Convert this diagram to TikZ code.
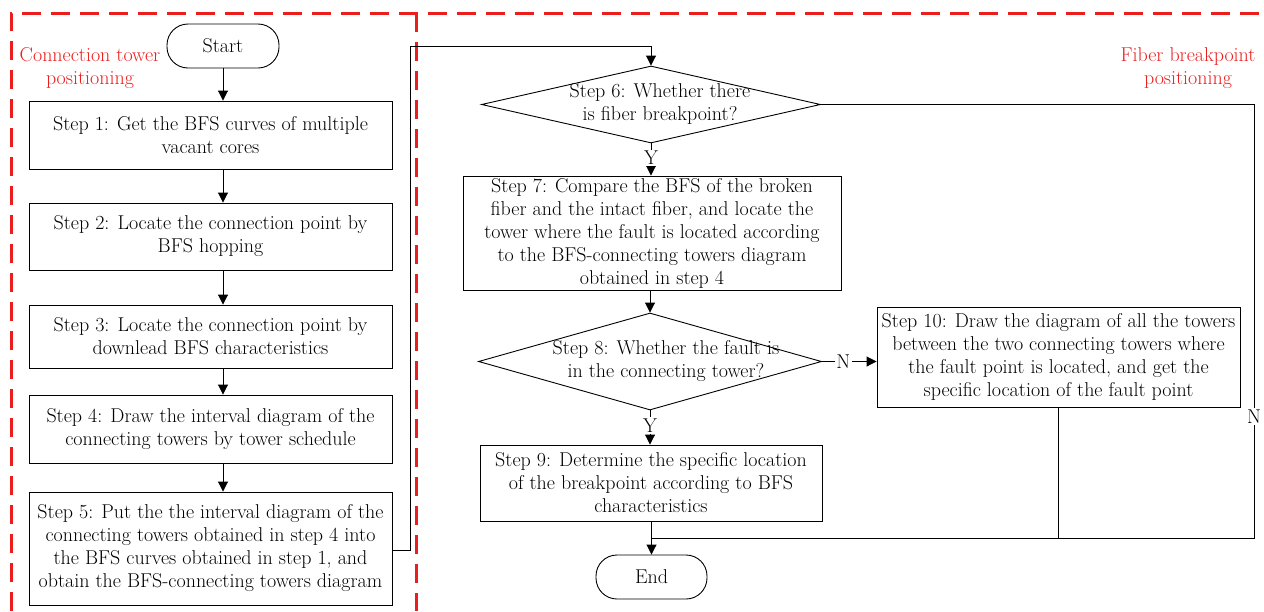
\documentclass[tikz,border=0pt]{standalone}
\usetikzlibrary{arrows.meta,shapes.geometric}
\definecolor{secred}{RGB}{235,30,30}
\begin{document}
\begin{tikzpicture}[x=1pt,y=-1pt,
  every node/.style={font=\fontsize{20}{23}\selectfont},
  box/.style={draw,line width=0.9pt,align=center,inner sep=0pt},
  term/.style={draw,line width=0.9pt,rounded corners=21pt,inner sep=0pt},
  dia/.style={draw,line width=0.9pt,diamond,inner sep=0pt},
  txt/.style={align=center,inner sep=0pt},
  lbl/.style={fill=white,inner sep=1.5pt},
  arr/.style={line width=0.9pt,-{Triangle[length=10pt,width=10pt]}},
  ln/.style={line width=0.9pt},
  sec/.style={secred,line width=3pt,dash pattern=on 19pt off 10pt},
  seclbl/.style={text=secred,align=center,inner sep=0pt}]
\path[use as bounding box] (0,0) rectangle (1264,611);
% section frames
\draw[sec] (11,611) -- (11,13) -- (1264,13);
\draw[sec] (416,13) -- (416,611);
\node[seclbl] (lblL) at (90,68) {Connection tower\\positioning};
\node[seclbl] (lblR) at (1188,68) {Fiber breakpoint\\positioning};
% left column
\node[term,minimum width=112pt,minimum height=44pt] (start) at (223,46) {Start};
\node[box,minimum width=363pt,minimum height=68pt] (s1) at (210.5,135) {Step 1: Get the BFS curves of multiple\\vacant cores};
\node[box,minimum width=363pt,minimum height=67pt] (s2) at (210.5,236.5) {Step 2: Locate the connection point by\\BFS hopping};
\node[box,minimum width=363pt,minimum height=63pt] (s3) at (210.5,336.5) {Step 3: Locate the connection point by\\downlead BFS characteristics};
\node[box,minimum width=363pt,minimum height=68pt] (s4) at (210.5,429) {Step 4: Draw the interval diagram of the\\connecting towers by tower schedule};
\node[box,minimum width=363pt,minimum height=113pt] (s5) at (210.5,548.5) {Step 5: Put the the interval diagram of the\\connecting towers obtained in step 4 into\\the BFS curves obtained in step 1, and\\obtain the BFS-connecting towers diagram};
% right column
\node[dia,minimum width=339pt,minimum height=77pt] (d6) at (651,104.5) {};
\node[txt] (t6) at (660,104) {Step 6: Whether there\\is fiber breakpoint?};
\node[box,minimum width=378pt,minimum height=114pt] (s7) at (652,233) {Step 7: Compare the BFS of the broken\\fiber and the intact fiber, and locate the\\tower where the fault is located according\\to the BFS-connecting towers diagram\\obtained in step 4};
\node[dia,minimum width=343pt,minimum height=97pt] (d8) at (650,361.5) {};
\node[txt] (t8) at (666,361) {Step 8: Whether the fault is\\in the connecting tower?};
\node[box,minimum width=363pt,minimum height=100pt] (s10) at (1058.5,357) {Step 10: Draw the diagram of all the towers\\between the two connecting towers where\\the fault point is located, and get the\\specific location of the fault point};
\node[box,minimum width=342pt,minimum height=76pt] (s9) at (651,483) {Step 9: Determine the specific location\\of the breakpoint according to BFS\\characteristics};
\node[term,minimum width=111pt,minimum height=44pt] (end) at (651.5,577) {End};
% connectors (left chain at x = 223)
\draw[arr] (start.south) -- (s1.north -| start.south);
\draw[arr] (s1.south -| start.south) -- (s2.north -| start.south);
\draw[arr] (s2.south -| start.south) -- (s3.north -| start.south);
\draw[arr] (s3.south -| start.south) -- (s4.north -| start.south);
\draw[arr] (s4.south -| start.south) -- (s5.north -| start.south);
\coordinate (c1) at (410,550);
\coordinate (c2) at (410,46);
\coordinate (c3) at (651,46);
\draw[arr] (s5.east |- c1) -- (c1) -- (c2) -- (c3) -- (d6.north);
\draw[arr] (d6.south) -- node[lbl,pos=0.45] {Y} (s7.north -| d6.south);
\draw[arr] (s7.south -| d8.north) -- (d8.north);
\draw[arr] (d8.south) -- node[lbl,pos=0.45] {Y} (s9.north -| d8.south);
\draw[arr] (d8.east) -- node[lbl,pos=0.39] {N} (s10.west |- d8.east);
\coordinate (m) at (651,538);
\coordinate (r1) at (1254,104.5);
\coordinate (r2) at (1254,538);
\draw[ln] (d6.east) -- (r1) -- node[lbl,pos=0.72] {N} (r2) -- (m);
\draw[ln] (s10.south) -- (s10.south |- m) -- (m);
\draw[arr] (s9.south -| end.north) -- (end.north);
\end{tikzpicture}
\end{document}
